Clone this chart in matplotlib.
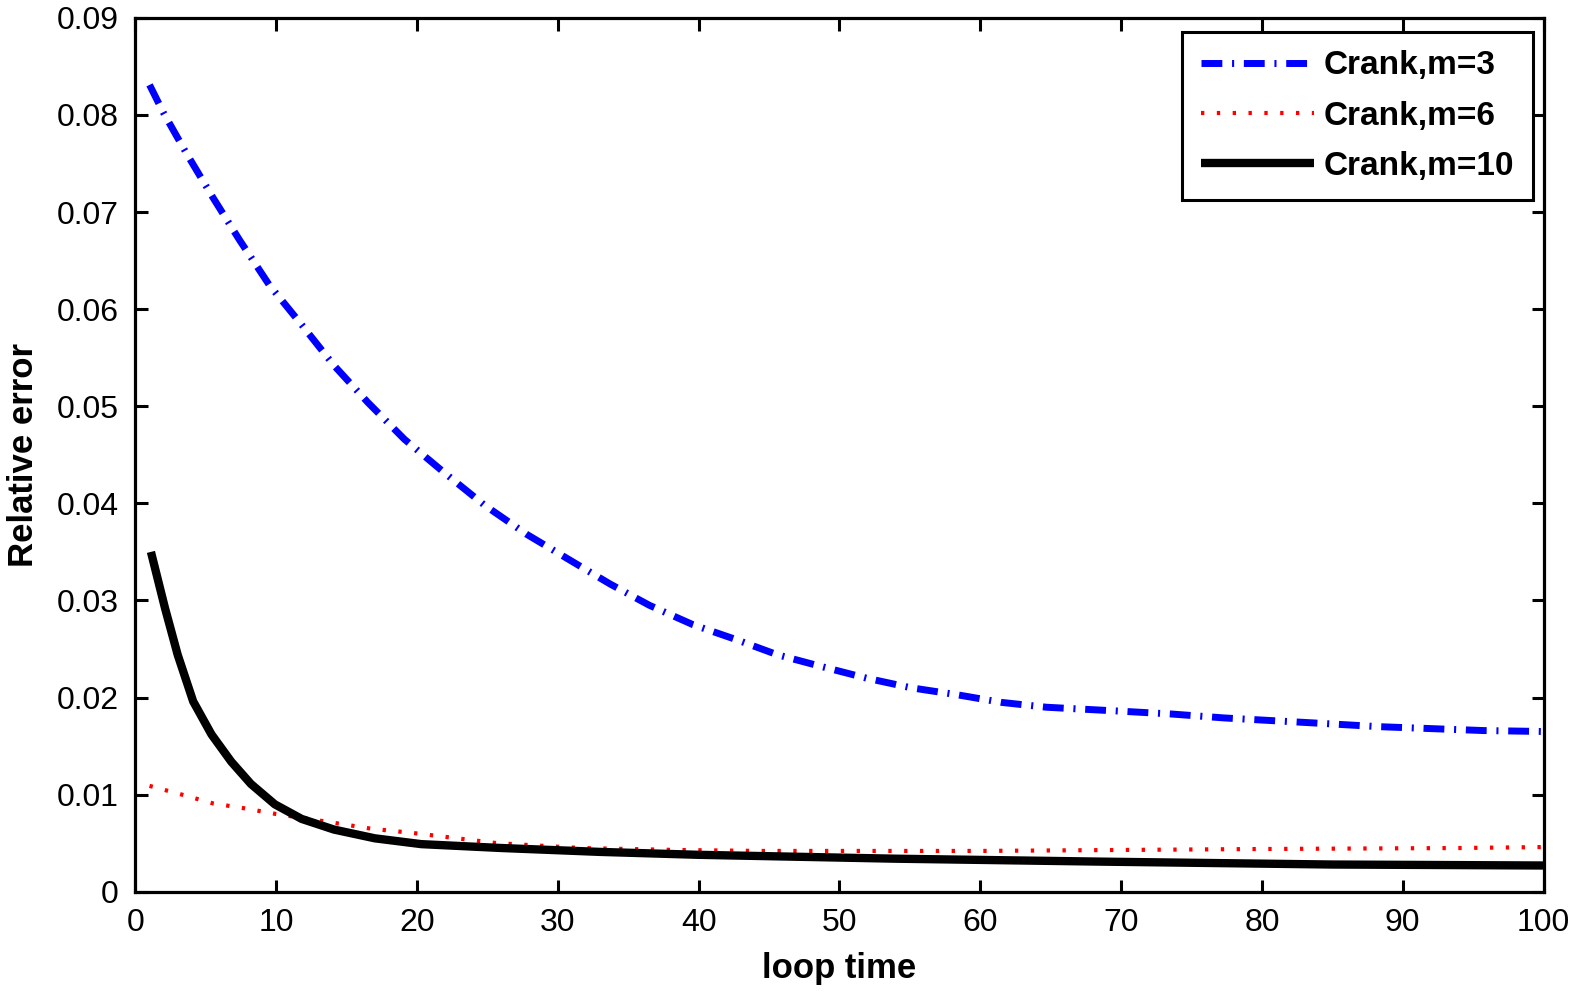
import matplotlib
matplotlib.use("Agg")
import matplotlib.pyplot as plt

plt.rcParams['font.family'] = ['Liberation Sans', 'DejaVu Sans']

# Crank, m=3 (blue dash-dot)
x_m3 = [1, 2, 3.6, 5.5, 7.4, 9.5, 11.8, 14.1, 16.5, 19.1, 21.9, 24.8, 27.8,
        30.8, 33.7, 36.5, 39.6, 42.6, 45.6, 48.7, 51.9, 55.1, 58.3, 61.5, 64.7,
        69.9, 73.6, 77.3, 81.0, 84.7, 88.3, 92.0, 95.7, 100]
y_m3 = [0.0831, 0.0802, 0.0761, 0.0715, 0.0671, 0.0625, 0.0584, 0.0542, 0.0504,
        0.0466, 0.0432, 0.0398, 0.0368, 0.0342, 0.0317, 0.0295, 0.0275, 0.0260,
        0.0244, 0.0232, 0.0220, 0.0210, 0.0203, 0.0195, 0.0190, 0.0186, 0.0183,
        0.0179, 0.0176, 0.0173, 0.0170, 0.0168, 0.0166, 0.0165]

# Crank, m=6 (red dotted)
x_m6 = [1, 3.3, 5.5, 7.7, 10, 13.2, 16.7, 20, 25.7, 31.6, 38.4, 44.3, 50.3,
        60, 70, 80, 94, 100]
y_m6 = [0.0109, 0.0100, 0.0091, 0.0086, 0.0080, 0.0073, 0.0065, 0.0060, 0.0050,
        0.0045, 0.0043, 0.0042, 0.0042, 0.0042, 0.0043, 0.0044, 0.0045, 0.0046]

# Crank, m=10 (black solid)
x_m10 = [1.1, 2.1, 3.0, 4.1, 5.4, 6.8, 8.2, 9.9, 11.8, 14.1, 17.0, 20.3, 26, 33,
         40, 47, 54, 68.5, 85, 100]
y_m10 = [0.0350, 0.0292, 0.0244, 0.0196, 0.0162, 0.0134, 0.0111, 0.0090, 0.0075,
         0.0064, 0.0055, 0.0049, 0.0045, 0.0041, 0.0038, 0.0036, 0.0034, 0.0031,
         0.0028, 0.0027]

fig = plt.figure(figsize=(15.75, 9.93), dpi=100)
ax = fig.add_axes([0.086, 0.102, 0.894, 0.880])

ax.plot(x_m3, y_m3, color='#0000ff', lw=5, ls=(0, (3.0, 1.4, 0.3, 1.4)),
        dash_capstyle='butt', label='Crank,m=3')
ax.plot(x_m6, y_m6, color='#ff0000', lw=3, ls=(0, (0.8, 3.0)),
        dash_capstyle='butt', label='Crank,m=6')
ax.plot(x_m10, y_m10, color='black', lw=6, solid_capstyle='butt',
        solid_joinstyle='round', label='Crank,m=10')

ax.set_xlim(0, 100)
ax.set_ylim(0, 0.09)
ax.set_xticks(range(0, 101, 10))
ax.set_yticks([i / 100 for i in range(10)])
ax.set_yticklabels(['0'] + ['%.2f' % (i / 100) for i in range(1, 10)])

for s in ax.spines.values():
    s.set_linewidth(2.3)
ax.tick_params(direction='in', length=9, width=2.2, labelsize=23,
               top=True, right=True, pad=12)

ax.set_xlabel('loop time', fontsize=25, fontweight='bold', labelpad=10)
ax.set_ylabel('Relative error', fontsize=25, fontweight='bold', labelpad=12)

leg = ax.legend(loc='upper right', bbox_to_anchor=(0.9925, 0.984),
                prop={'weight': 'bold', 'size': 24}, fancybox=False,
                edgecolor='black', framealpha=1, handlelength=3.4,
                handletextpad=0.3, borderpad=0.55, labelspacing=0.58,
                borderaxespad=0)
leg.get_frame().set_linewidth(2.2)

fig.savefig('out.png', dpi=100)
